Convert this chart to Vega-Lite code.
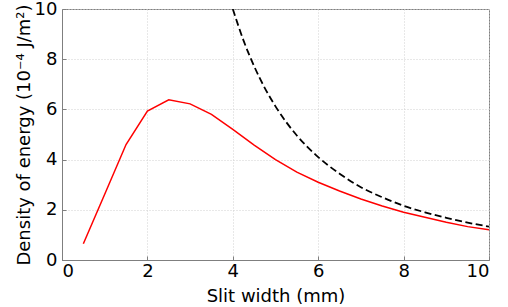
{
  "$schema": "https://vega.github.io/schema/vega-lite/v6.json",
  "width": 427,
  "height": 251,
  "autosize": {"type": "none"},
  "padding": {"left": 62, "top": 9, "right": 19, "bottom": 47},
  "background": "white",
  "config": {
    "view": {"stroke": "#7f7f7f", "strokeWidth": 1},
    "font": "DejaVu Sans",
    "axis": {
      "labelFont": "DejaVu Sans",
      "titleFont": "DejaVu Sans",
      "labelFontSize": 18,
      "titleFontSize": 18,
      "titleFontWeight": "normal",
      "labelColor": "black",
      "titleColor": "black",
      "domainColor": "#7f7f7f",
      "tickColor": "#7f7f7f",
      "gridColor": "#d0d0d0",
      "gridDash": [1, 2],
      "gridWidth": 1
    }
  },
  "datasets": {
    "red": [
      {"w": 0.5, "e": 0.65},
      {"w": 1.0, "e": 2.62},
      {"w": 1.5, "e": 4.6},
      {"w": 2.0, "e": 5.93},
      {"w": 2.5, "e": 6.38},
      {"w": 3.0, "e": 6.22},
      {"w": 3.5, "e": 5.8},
      {"w": 4.0, "e": 5.2},
      {"w": 4.5, "e": 4.58},
      {"w": 5.0, "e": 4.0},
      {"w": 5.5, "e": 3.5},
      {"w": 6.0, "e": 3.1},
      {"w": 6.5, "e": 2.75},
      {"w": 7.0, "e": 2.43},
      {"w": 7.5, "e": 2.15},
      {"w": 8.0, "e": 1.9},
      {"w": 8.5, "e": 1.7},
      {"w": 9.0, "e": 1.5},
      {"w": 9.5, "e": 1.33},
      {"w": 10.0, "e": 1.2}
    ],
    "dashed": [
      {"w": 4.0, "e": 10.0},
      {"w": 4.25, "e": 8.75},
      {"w": 4.5, "e": 7.72},
      {"w": 4.75, "e": 6.85},
      {"w": 5.0, "e": 6.12},
      {"w": 5.5, "e": 4.96},
      {"w": 6.0, "e": 4.1},
      {"w": 6.5, "e": 3.44},
      {"w": 7.0, "e": 2.9},
      {"w": 7.5, "e": 2.5},
      {"w": 8.0, "e": 2.16},
      {"w": 8.5, "e": 1.9},
      {"w": 9.0, "e": 1.68},
      {"w": 9.5, "e": 1.49},
      {"w": 10.0, "e": 1.33}
    ]
  },
  "encoding": {
    "x": {
      "field": "w",
      "type": "quantitative",
      "scale": {"domain": [0, 10], "nice": false, "zero": false},
      "axis": {
        "title": "Slit width (mm)",
        "values": [0, 2, 4, 6, 8, 10],
        "tickSize": -4,
        "labelPadding": 6,
        "titlePadding": 7,
        "grid": true
      }
    },
    "y": {
      "field": "e",
      "type": "quantitative",
      "scale": {"domain": [0, 10], "nice": false, "zero": false},
      "axis": {
        "title": "Density of energy (10⁻⁴ J/m²)",
        "values": [0, 2, 4, 6, 8, 10],
        "tickSize": -4,
        "labelPadding": 9,
        "titlePadding": 1,
        "grid": true
      }
    }
  },
  "layer": [
    {
      "data": {"name": "dashed"},
      "mark": {"type": "line", "color": "black", "strokeWidth": 1.8, "strokeDash": [7, 3.5], "interpolate": "monotone", "clip": true}
    },
    {
      "data": {"name": "red"},
      "mark": {"type": "line", "color": "#ff0000", "strokeWidth": 1.5, "clip": true}
    }
  ]
}
